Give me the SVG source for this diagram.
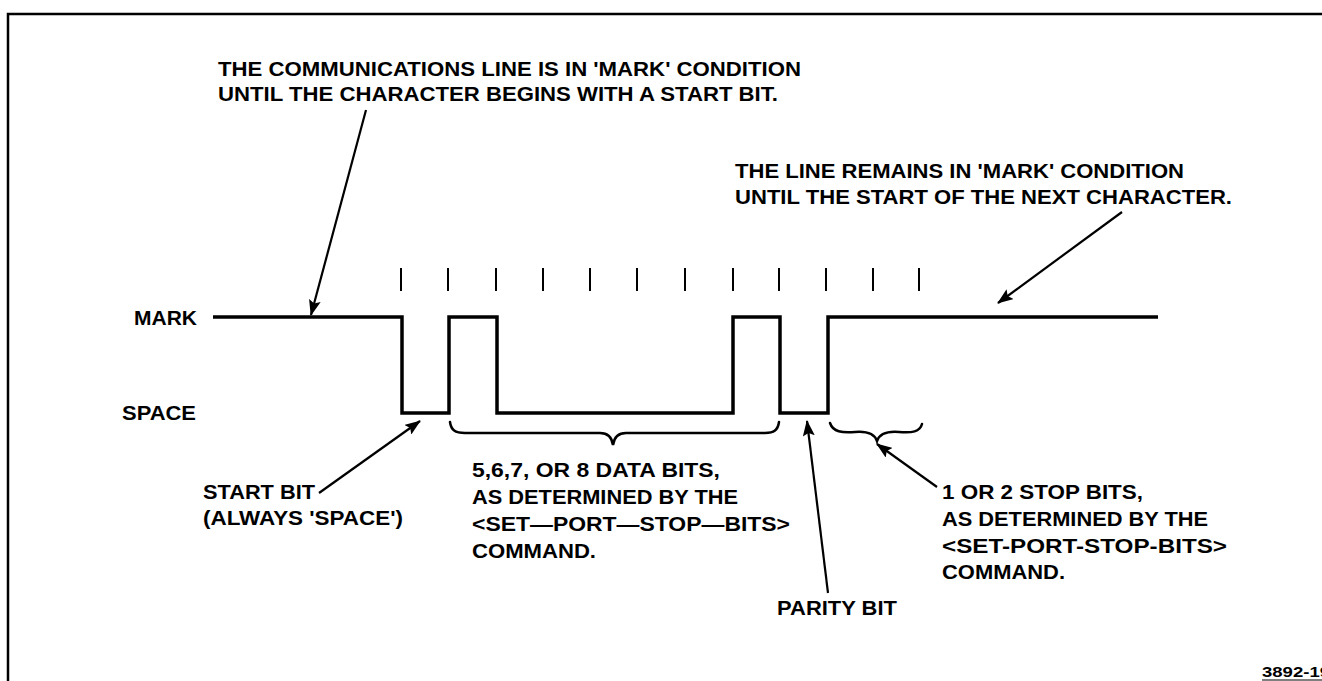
<svg xmlns="http://www.w3.org/2000/svg" width="1322" height="681" viewBox="0 0 1322 681">
<style>
.t{font-family:"Liberation Sans",Arial,sans-serif;font-weight:bold;font-size:20px;fill:#000}
.id{font-family:"Liberation Sans",Arial,sans-serif;font-weight:bold;font-size:14px;fill:#000}
.w{fill:none;stroke:#000;stroke-width:3.5;stroke-linejoin:miter}
.k{stroke:#000;stroke-width:2}
.b{fill:none;stroke:#000;stroke-width:2.5;stroke-linecap:round}
.a{fill:none;stroke:#000;stroke-width:2.2}
</style>
<defs>
<marker id="ah" markerUnits="userSpaceOnUse" markerWidth="16" markerHeight="12" viewBox="0 0 16 12" refX="15" refY="6" orient="auto">
<path d="M0,0 L16,6 L0,12 L3,6 Z" fill="#000"/>
</marker>
</defs>
<rect width="1322" height="681" fill="#fff"/>
<g id="frame">
<path d="M8,681 V14 H1322" fill="none" stroke="#000" stroke-width="2.5"/>
</g>
<g id="ticks">
<line class="k" x1="401" y1="268" x2="401" y2="291"/>
<line class="k" x1="448" y1="268" x2="448" y2="291"/>
<line class="k" x1="496" y1="268" x2="496" y2="291"/>
<line class="k" x1="543" y1="268" x2="543" y2="291"/>
<line class="k" x1="590" y1="268" x2="590" y2="291"/>
<line class="k" x1="637" y1="268" x2="637" y2="291"/>
<line class="k" x1="685" y1="268" x2="685" y2="291"/>
<line class="k" x1="733" y1="268" x2="733" y2="291"/>
<line class="k" x1="779" y1="268" x2="779" y2="291"/>
<line class="k" x1="826" y1="268" x2="826" y2="291"/>
<line class="k" x1="873" y1="268" x2="873" y2="291"/>
<line class="k" x1="919" y1="268" x2="919" y2="291"/>
</g>
<g id="waveform">
<path class="w" d="M213,317 H402 V413 H449 V317 H497 V413 H733 V317 H780 V413 H828 V317 H1158"/>
</g>
<g id="braces">
<path class="b" d="M450,422 C451,430 455,433 465,433 H600 C608,433 612,438 613,445 C614,438 618,433 626,433 H765 C774,433 778,430 779,422"/>
<path class="b" d="M830,423 C833,432 842,433 855,432 C868,431 875,435 877,441 C879,435 886,431 899,432 C912,433 920,432 922,424"/>
</g>
<g id="connectors">
<line class="a" x1="366" y1="110" x2="311" y2="315" marker-end="url(#ah)"/>
<line class="a" x1="1122" y1="212" x2="998" y2="303" marker-end="url(#ah)"/>
<line class="a" x1="319" y1="493" x2="420" y2="421" marker-end="url(#ah)"/>
<line class="a" x1="828" y1="593" x2="807" y2="421" marker-end="url(#ah)"/>
<line class="a" x1="937" y1="487" x2="877" y2="444" marker-end="url(#ah)"/>
</g>
<g id="label-mark-start">
<text class="t" x="218" y="76" textLength="583" lengthAdjust="spacingAndGlyphs">THE COMMUNICATIONS LINE IS IN 'MARK' CONDITION</text>
<text class="t" x="218" y="101" textLength="560" lengthAdjust="spacingAndGlyphs">UNTIL THE CHARACTER BEGINS WITH A START BIT.</text>
</g>
<g id="label-mark-end">
<text class="t" x="735" y="178" textLength="449" lengthAdjust="spacingAndGlyphs">THE LINE REMAINS IN 'MARK' CONDITION</text>
<text class="t" x="735" y="204" textLength="497" lengthAdjust="spacingAndGlyphs">UNTIL THE START OF THE NEXT CHARACTER.</text>
</g>
<g id="label-levels">
<text class="t" x="134" y="325" textLength="63" lengthAdjust="spacingAndGlyphs">MARK</text>
<text class="t" x="122" y="420" textLength="74" lengthAdjust="spacingAndGlyphs">SPACE</text>
</g>
<g id="label-start-bit">
<text class="t" x="203" y="499" textLength="112" lengthAdjust="spacingAndGlyphs">START BIT</text>
<text class="t" x="203" y="525" textLength="200" lengthAdjust="spacingAndGlyphs">(ALWAYS 'SPACE')</text>
</g>
<g id="label-data-bits">
<text class="t" x="472" y="477" textLength="248" lengthAdjust="spacingAndGlyphs">5,6,7, OR 8 DATA BITS,</text>
<text class="t" x="472" y="504" textLength="266" lengthAdjust="spacingAndGlyphs">AS DETERMINED BY THE</text>
<text class="t" x="472" y="531" textLength="318" lengthAdjust="spacingAndGlyphs">&lt;SET—PORT—STOP—BITS&gt;</text>
<text class="t" x="472" y="558" textLength="124" lengthAdjust="spacingAndGlyphs">COMMAND.</text>
</g>
<g id="label-parity">
<text class="t" x="777" y="615" textLength="120" lengthAdjust="spacingAndGlyphs">PARITY BIT</text>
</g>
<g id="label-stop-bits">
<text class="t" x="942" y="499" textLength="201" lengthAdjust="spacingAndGlyphs">1 OR 2 STOP BITS,</text>
<text class="t" x="942" y="526" textLength="266" lengthAdjust="spacingAndGlyphs">AS DETERMINED BY THE</text>
<text class="t" x="942" y="553" textLength="285" lengthAdjust="spacingAndGlyphs">&lt;SET-PORT-STOP-BITS&gt;</text>
<text class="t" x="942" y="579" textLength="123" lengthAdjust="spacingAndGlyphs">COMMAND.</text>
</g>
<g id="figure-id">
<text class="id" x="1262" y="677" textLength="68" lengthAdjust="spacingAndGlyphs">3892-19</text>
<line x1="1262" y1="680" x2="1322" y2="680" stroke="#000" stroke-width="1.2"/>
</g>
</svg>
